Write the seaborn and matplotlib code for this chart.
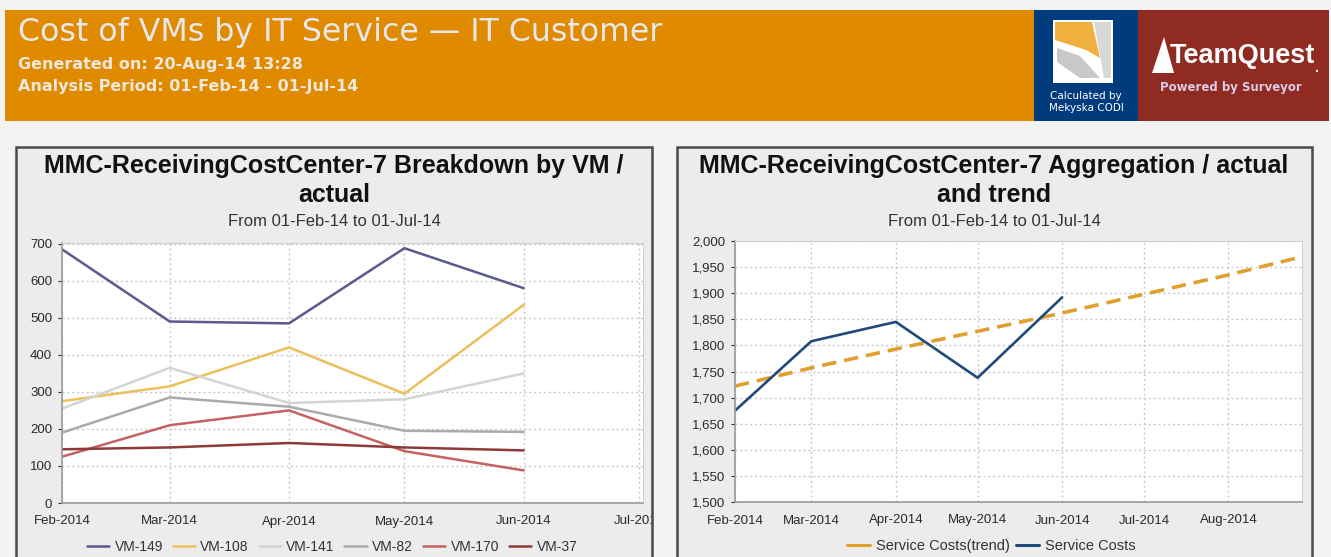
import pandas as pd
import matplotlib
matplotlib.use("Agg")
import matplotlib.pyplot as plt
import matplotlib.dates as mdates
from matplotlib.patches import Rectangle, Polygon
from matplotlib.ticker import FuncFormatter
from matplotlib.transforms import Bbox, TransformedBbox
import seaborn as sns

# ---- data ----
months = ["2014-02-01", "2014-03-01", "2014-04-01", "2014-05-01", "2014-06-01"]
vm_names = ["VM-149", "VM-108", "VM-141", "VM-82", "VM-170", "VM-37"]
vm_149 = [685, 490, 485, 688, 580]
vm_108 = [275, 315, 420, 295, 535]
vm_141 = [255, 365, 270, 280, 350]
vm_82 = [190, 285, 260, 195, 192]
vm_170 = [125, 210, 250, 140, 88]
vm_37 = [145, 150, 162, 150, 142]
vm_colors = ["#5A5A8C", "#EBC05A", "#D4D4D4", "#AAAAAA", "#C46262", "#8E3A3A"]

service_costs = [1675, 1808, 1845, 1738, 1892]
trend_dates = ["2014-02-01", "2014-03-01", "2014-04-01", "2014-05-01",
               "2014-06-01", "2014-07-01", "2014-08-01", "2014-08-28"]
trend_costs = [1722, 1757, 1793, 1827, 1862, 1898, 1935, 1970]

left_ticks = ["2014-02-01", "2014-03-01", "2014-04-01", "2014-05-01",
              "2014-06-01", "2014-07-01"]
right_ticks = left_ticks + ["2014-08-01"]

W, H = 1331, 557


def fig_rect(x0, y0, x1, y1):
    # pixel box (top-left origin) -> figure fraction [l, b, w, h]
    return [x0 / W, 1 - y1 / H, (x1 - x0) / W, (y1 - y0) / H]


def main():
    sns.set_style("white")
    plt.rcParams["font.family"] = ["Liberation Sans", "DejaVu Sans"]

    fig = plt.figure(figsize=(W / 100, H / 100), dpi=100, facecolor="#F3F3F3")

    # background layer: header band, logos, panel boxes
    bg = fig.add_axes([0, 0, 1, 1], zorder=-1)
    bg.set_xlim(0, W)
    bg.set_ylim(H, 0)
    bg.axis("off")
    bg.add_patch(Rectangle((5, 10), 1030, 111, facecolor="#E08A00", edgecolor="none"))
    bg.add_patch(Rectangle((1034, 10), 104, 111, facecolor="#003C7D", edgecolor="none"))
    bg.add_patch(Rectangle((1138, 10), 191, 111, facecolor="#8F2B20", edgecolor="none"))

    # little square logo
    bg.add_patch(Rectangle((1053, 20), 60, 63, facecolor="white", edgecolor="none"))
    bg.add_patch(Polygon([(1055, 22), (1092, 22), (1100, 58), (1086, 50), (1055, 40)],
                         facecolor="#F0B040", edgecolor="none"))
    bg.add_patch(Polygon([(1057, 48), (1080, 56), (1100, 78), (1080, 78), (1057, 62)],
                         facecolor="#C8C8C8", edgecolor="none"))
    bg.add_patch(Polygon([(1094, 22), (1111, 22), (1111, 78), (1104, 78)],
                         facecolor="#D8D8D8", edgecolor="none"))
    bg.text(1086, 96, "Calculated by", color="white", fontsize=7.5,
            ha="center", va="center", family=["DejaVu Sans"])
    bg.text(1086, 108, "Mekyska CODI", color="white", fontsize=7.5,
            ha="center", va="center", family=["DejaVu Sans"])

    # TeamQuest mark
    bg.add_patch(Polygon([(1164, 37), (1152, 73), (1174, 73)],
                         facecolor="white", edgecolor="none"))
    bg.text(1170, 56, "TeamQuest", color="white", fontsize=19.5, fontweight="bold",
            ha="left", va="center")
    bg.text(1317, 68, ".", color="white", fontsize=10, fontweight="bold",
            ha="center", va="center")
    bg.text(1231, 88, "Powered by Surveyor", color="#DCCBE8", fontsize=8.5,
            fontweight="bold", ha="center", va="center", family=["DejaVu Sans"])

    # header texts
    bg.text(18, 33, "Cost of VMs by IT Service \u2014 IT Customer", color="#E8E8EC",
            fontsize=22.8, ha="left", va="center", family=["DejaVu Sans"])
    bg.text(18, 64, "Generated on: 20-Aug-14 13:28", color="#F0E8DC",
            fontsize=11.5, fontweight="bold", ha="left", va="center",
            family=["DejaVu Sans"])
    bg.text(18, 87, "Analysis Period: 01-Feb-14 - 01-Jul-14", color="#F0E8DC",
            fontsize=11.5, fontweight="bold", ha="left", va="center",
            family=["DejaVu Sans"])

    # panel boxes
    for x0, x1 in [(16, 652), (677, 1312)]:
        bg.add_patch(Rectangle((x0, 147), x1 - x0, 420, facecolor="#ECECEC",
                               edgecolor="#4A4A4A", linewidth=1.8))

    # panel titles
    title_kw = dict(fontsize=18, fontweight="bold", ha="center", va="center",
                    color="#111111")
    sub_kw = dict(fontsize=12, ha="center", va="center", color="#333333")
    bg.text(334, 166, "MMC-ReceivingCostCenter-7 Breakdown by VM /", **title_kw)
    bg.text(334, 195, "actual", **title_kw)
    bg.text(334, 222, "From 01-Feb-14 to 01-Jul-14", **sub_kw)
    bg.text(994, 166, "MMC-ReceivingCostCenter-7 Aggregation / actual", **title_kw)
    bg.text(994, 195, "and trend", **title_kw)
    bg.text(994, 222, "From 01-Feb-14 to 01-Jul-14", **sub_kw)

    # ---- left chart ----
    values = [vm_149, vm_108, vm_141, vm_82, vm_170, vm_37]
    rows = []
    for name, vals in zip(vm_names, values):
        for m, v in zip(months, vals):
            rows.append({"month": pd.Timestamp(m), "vm": name, "cost": v})
    df_vm = pd.DataFrame(rows)

    ax1 = fig.add_axes(fig_rect(62, 243, 643, 503))
    sns.lineplot(data=df_vm, x="month", y="cost", hue="vm", hue_order=vm_names,
                 palette=dict(zip(vm_names, vm_colors)), linewidth=1.8, ax=ax1)
    ax1.set_xlim(pd.Timestamp("2014-02-01"), pd.Timestamp("2014-07-02"))
    ax1.set_ylim(0, 702)
    ax1.set_yticks(range(0, 701, 100))
    ax1.set_xticks([pd.Timestamp(t) for t in left_ticks])

    # ---- right chart ----
    df_sc = pd.DataFrame({"month": pd.to_datetime(months), "cost": service_costs})
    df_tr = pd.DataFrame({"month": pd.to_datetime(trend_dates), "cost": trend_costs})

    ax2 = fig.add_axes(fig_rect(735, 241, 1302, 502))
    sns.lineplot(data=df_tr, x="month", y="cost", color="#E0A030", linewidth=2.6,
                 dashes=False, ax=ax2, label="Service Costs(trend)")
    ax2.lines[-1].set_dashes((4, 2.2))
    sns.lineplot(data=df_sc, x="month", y="cost", color="#1F4A7A", linewidth=1.9,
                 ax=ax2, label="Service Costs")
    ax2.set_xlim(pd.Timestamp("2014-02-01"), pd.Timestamp("2014-08-28"))
    ax2.set_ylim(1500, 2000)
    ax2.set_yticks(range(1500, 2001, 50))
    ax2.yaxis.set_major_formatter(FuncFormatter(lambda v, p: f"{int(v):,}"))
    ax2.set_xticks([pd.Timestamp(t) for t in right_ticks])

    for ax in (ax1, ax2):
        ax.set_facecolor("white")
        ax.set_xlabel("")
        ax.set_ylabel("")
        ax.xaxis.set_major_formatter(mdates.DateFormatter("%b-%Y"))
        ax.grid(True, linestyle=(0, (1.5, 2)), color="#C8C8C8", linewidth=1.0)
        for side in ("top", "right"):
            ax.spines[side].set_color("#D0D0D0")
        for side in ("left", "bottom"):
            ax.spines[side].set_color("#9A9A9A")
            ax.spines[side].set_linewidth(1.2)
        ax.tick_params(axis="both", labelsize=9.5, colors="#2A2A2A", length=3,
                       width=0.8, left=True, bottom=False, pad=4)
        ax.tick_params(axis="x", pad=6)

    # the Jul label of the left chart is cut by the panel border
    clip = TransformedBbox(Bbox.from_extents(0, 0, 652 / W, 1), fig.transFigure)
    for lbl in ax1.get_xticklabels():
        lbl.set_clip_box(clip)
        lbl.set_clip_on(True)

    sns.move_legend(ax1, "center", bbox_to_anchor=(0.465, -0.17), ncol=6,
                    frameon=False, title=None, fontsize=10, handlelength=1.6,
                    columnspacing=0.7, handletextpad=0.4)
    sns.move_legend(ax2, "center", bbox_to_anchor=(0.452, -0.17), ncol=2,
                    frameon=False, title=None, fontsize=10.5, handlelength=1.6,
                    columnspacing=0.4, handletextpad=0.4)
    for ax in (ax1, ax2):
        for t in ax.get_legend().get_texts():
            t.set_color("#333333")
    for h in ax2.get_legend().legend_handles:
        h.set_linestyle("-")
        h.set_linewidth(2.2)

    fig.savefig("out.png", dpi=100, facecolor=fig.get_facecolor())


if __name__ == "__main__":
    main()
